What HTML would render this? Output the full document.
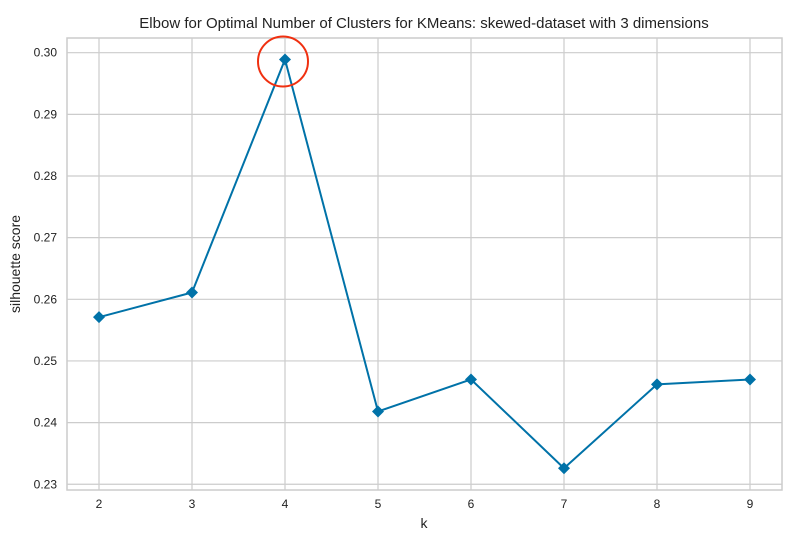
<!DOCTYPE html>
<html><head><meta charset="utf-8"><style>
body{margin:0;background:#fff;font-family:"Liberation Sans",sans-serif}
text{font-family:"Liberation Sans",sans-serif;fill:#222}
</style></head><body>
<svg id="chart" width="800" height="550">
<text x="424" y="28" font-size="15" text-anchor="middle">Elbow for Optimal Number of Clusters for KMeans: skewed-dataset with 3 dimensions</text>
<rect x="67" y="38" width="715" height="452" fill="none" stroke="#ccc" stroke-width="1.5"/>
<g id="grid"></g><g id="ticks"></g><g id="series"></g>
<text x="424" y="528" font-size="14" text-anchor="middle">k</text>
<text transform="translate(20,264) rotate(-90)" font-size="14" text-anchor="middle">silhouette score</text>
</svg>
<script>
const ks=[2,3,4,5,6,7,8,9];
const scores=[0.2571,0.2611,0.2989,0.2418,0.2470,0.2326,0.2462,0.2470];
const yTicks=[0.23,0.24,0.25,0.26,0.27,0.28,0.29,0.30];
const bestK=4;
const NS="http://www.w3.org/2000/svg";
const x=k=>99+(k-2)*93;
const y=v=>52.7+(0.30-v)/0.01*61.65;
function mk(t,a,p){const e=document.createElementNS(NS,t);for(const k in a)e.setAttribute(k,a[k]);p.appendChild(e);return e;}
const g=document.getElementById('grid'),tk=document.getElementById('ticks'),s=document.getElementById('series');
ks.forEach(k=>{
 const l=mk('line',{x1:x(k),x2:x(k),y1:38,y2:490,stroke:'#ccc','stroke-width':1.2},g);
 
 
 const t=mk('text',{x:x(k),y:508,'font-size':12,'text-anchor':'middle'},tk);t.textContent=k;
 
 
});
yTicks.forEach(v=>{
 const l=mk('line',{x1:67,x2:782,y1:y(v),y2:y(v),stroke:'#ccc','stroke-width':1.2},g);
 
 
 const t=mk('text',{x:57,y:y(v)+4,'font-size':12,'text-anchor':'end'},tk);t.textContent=v.toFixed(2);
 
 
});
const pl=mk('polyline',{points:ks.map((k,i)=>x(k)+','+y(scores[i])).join(' '),fill:'none',stroke:'#0072a8','stroke-width':2},s);


ks.forEach((k,i)=>{
 const cx=x(k),cy=y(scores[i]);
 const m=mk('polygon',{points:`${cx},${cy-6} ${cx+6},${cy} ${cx},${cy+6} ${cx-6},${cy}`,fill:'#0072a8'},s);
 
 
});
const bi=ks.indexOf(bestK);
const c=mk('circle',{cx:x(bestK)-2,cy:y(scores[bi])+2,r:25,fill:'none',stroke:'#f03010','stroke-width':2},s);


</script>
</body></html>
